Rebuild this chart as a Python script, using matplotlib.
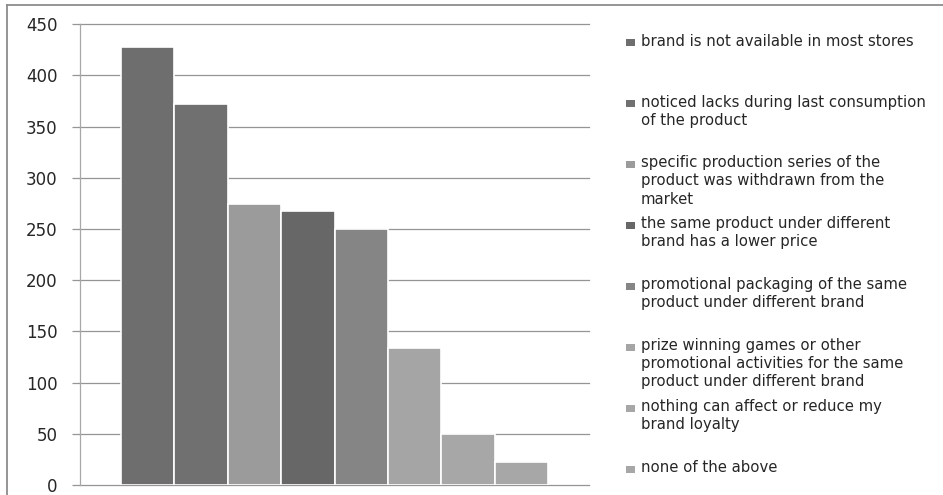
import matplotlib
matplotlib.use("Agg")
import matplotlib.pyplot as plt
from matplotlib.patches import Rectangle
from matplotlib.lines import Line2D

labels = [
    "brand is not available in most stores",
    "noticed lacks during last consumption\nof the product",
    "specific production series of the\nproduct was withdrawn from the\nmarket",
    "the same product under different\nbrand has a lower price",
    "promotional packaging of the same\nproduct under different brand",
    "prize winning games or other\npromotional activities for the same\nproduct under different brand",
    "nothing can affect or reduce my\nbrand loyalty",
    "none of the above",
]
values = [428, 372, 274, 268, 250, 134, 50, 22]
colors = ["#6e6e6e", "#707070", "#9b9b9b", "#676767", "#858585", "#a5a5a5", "#a7a7a7", "#a7a7a7"]
yticks = [0, 50, 100, 150, 200, 250, 300, 350, 400, 450]

W, H = 943, 495
fig = plt.figure(figsize=(W / 100, H / 100), dpi=100)
fig.patch.set_facecolor("white")

def fx(px):
    return px / W

def fy(py):
    return 1 - py / H

ax = fig.add_axes([fx(80), fy(485), fx(589) - fx(80), fy(24.3) - fy(485)])
ax.set_facecolor("white")

xs = list(range(len(values)))
ax.bar(xs, values, width=1.0, color=colors, edgecolor="white", linewidth=1.2, zorder=3)

ax.set_xlim(-1.268, 8.268)
ax.set_ylim(0, 450)
ax.set_yticks(yticks)
ax.set_yticklabels([str(v) for v in yticks])
ax.set_xticks([])
ax.yaxis.grid(True, color="#959595", linewidth=0.9, zorder=0)
for gl in ax.get_ygridlines():
    gl.set_clip_on(False)
ax.set_axisbelow(True)
for s in ["top", "right", "bottom"]:
    ax.spines[s].set_visible(False)
ax.spines["left"].set_color("#a8a8a8")
ax.spines["left"].set_linewidth(0.9)
ax.tick_params(axis="y", length=6, width=0.9, color="#959595", pad=10,
               labelsize=12, labelcolor="#262626")

# outer frame (top and left)
fig.add_artist(Line2D([fx(7), fx(7)], [fy(495), fy(5)], color="#8c8c8c", linewidth=1.3))
fig.add_artist(Line2D([fx(7), 1.0], [fy(5), fy(5)], color="#8c8c8c", linewidth=1.3))

# legend
for i, (lab, c) in enumerate(zip(labels, colors)):
    yc = 42.7 + i * 60.9
    fig.add_artist(Rectangle((fx(626), fy(yc + 3.5)), 9 / W, 7 / H, facecolor=c,
                             edgecolor="none", transform=fig.transFigure))
    fig.text(fx(641), fy(yc - 9), lab, ha="left", va="top", fontsize=10.7,
             color="#262626", linespacing=1.25)

fig.savefig("out.png", dpi=100, facecolor="white")
